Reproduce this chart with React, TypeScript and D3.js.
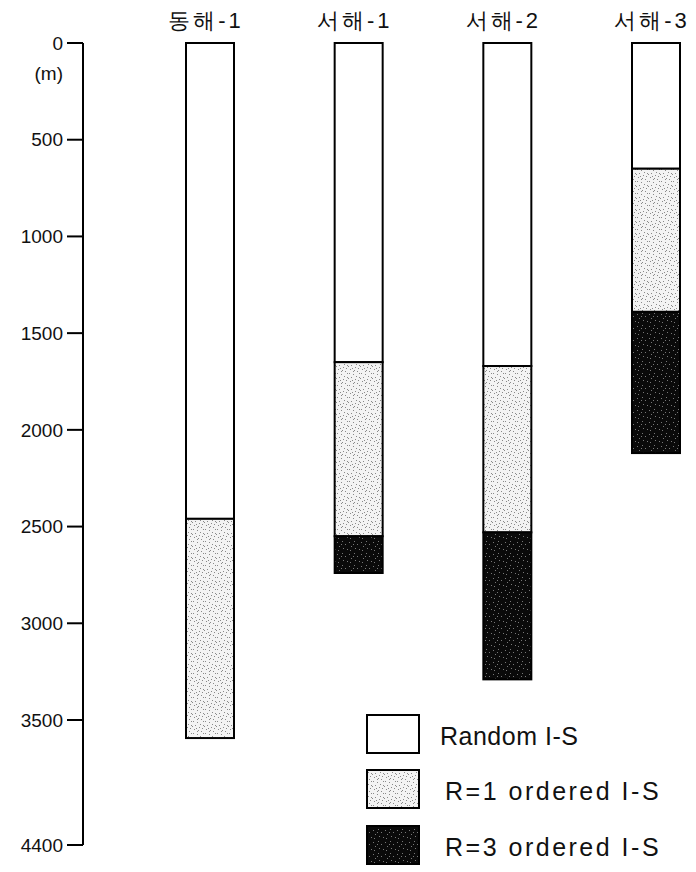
import React from "react";
import * as d3 from "d3";

const wells = ["동해-1", "서해-1", "서해-2", "서해-3"];
const randomTop = [0, 0, 0, 0];
const randomBottom = [2460, 1650, 1670, 650];
const r1Bottom = [3630, 2550, 2530, 1390];
const r3Bottom = [3630, 2740, 3290, 2120];
const depthTicks = [0, 500, 1000, 1500, 2000, 2500, 3000, 3500, 4400];
const legendLabels = ["Random I-S", "R=1 ordered I-S", "R=3 ordered I-S"];

const W = 696;
const H = 872;

export default function App() {
  const y = d3.scaleLinear().domain([0, 3500, 4400]).range([43, 720, 845]);
  const xp = d3.scalePoint().domain(wells).range([210, 656]);
  const bw = 48;
  const axisX = 83;
  const font = "'Liberation Sans', Arial, sans-serif";

  const segs: { well: string; y0: number; y1: number; kind: number }[] = [];
  wells.forEach((w, i) => {
    segs.push({ well: w, y0: randomTop[i], y1: randomBottom[i], kind: 0 });
    if (r1Bottom[i] > randomBottom[i]) segs.push({ well: w, y0: randomBottom[i], y1: r1Bottom[i], kind: 1 });
    if (r3Bottom[i] > r1Bottom[i]) segs.push({ well: w, y0: r1Bottom[i], y1: r3Bottom[i], kind: 2 });
  });
  const fills = ["#ffffff", "url(#stip1)", "url(#stip3)"];

  const dots1 = [
    [1, 1], [5, 2], [3, 5], [8, 4], [10, 8], [2, 9], [6, 10], [11, 1], [7, 7], [0, 6], [9, 11], [4, 8], [11, 5], [5, 11],
  ];
  const dots3 = [
    [1, 2], [6, 1], [3, 6], [9, 4], [11, 9], [2, 10], [7, 8], [5, 4],
  ];

  return (
    <svg width={W} height={H} style={{ position: "absolute", left: 0, top: 0, background: "#fff" }} fontFamily={font}>
      <defs>
        <pattern id="stip1" width={12} height={12} patternUnits="userSpaceOnUse">
          <rect width={12} height={12} fill="#f3f3f3" />
          {dots1.map((d, i) => (
            <rect key={i} x={d[0]} y={d[1]} width={1} height={1} fill="#8a8a8a" />
          ))}
        </pattern>
        <pattern id="stip3" width={12} height={12} patternUnits="userSpaceOnUse">
          <rect width={12} height={12} fill="#0a0a0a" />
          {dots3.map((d, i) => (
            <rect key={i} x={d[0]} y={d[1]} width={1} height={1} fill="#777" />
          ))}
        </pattern>
      </defs>

      {/* depth axis */}
      <line x1={axisX} x2={axisX} y1={y(0)} y2={y(4400)} stroke="#000" strokeWidth={2} />
      {depthTicks.map((t) => (
        <g key={t}>
          <line x1={axisX - 16} x2={axisX} y1={y(t)} y2={y(t)} stroke="#000" strokeWidth={2} />
          <text x={axisX - 20} y={y(t)} dy="0.35em" textAnchor="end" fontSize={19} fill="#111">
            {t}
          </text>
        </g>
      ))}
      <text x={63} y={73} dy="0.35em" textAnchor="end" fontSize={19} fill="#111">
        (m)
      </text>

      {/* columns */}
      {segs.map((s, i) => (
        <rect
          key={i}
          x={(xp(s.well) as number) - bw / 2}
          y={y(s.y0)}
          width={bw}
          height={y(s.y1) - y(s.y0)}
          fill={fills[s.kind]}
          stroke="#000"
          strokeWidth={2}
        />
      ))}
      {wells.map((w) => (
        <text key={w} x={(xp(w) as number) - 4} y={20} dy="0.35em" textAnchor="middle" fontSize={22} fill="#111" letterSpacing={3}>
          {w}
        </text>
      ))}

      {/* legend */}
      {legendLabels.map((l, i) => {
        const ly = [715, 770, 826][i];
        return (
          <g key={l}>
            <rect x={367} y={ly} width={52} height={38} fill={fills[i]} stroke="#000" strokeWidth={2} />
            <text x={i === 0 ? 440 : 445} y={ly + 21} dy="0.35em" fontSize={25} fill="#111" letterSpacing={i === 0 ? 0.5 : 2.5}>
              {l}
            </text>
          </g>
        );
      })}
    </svg>
  );
}
